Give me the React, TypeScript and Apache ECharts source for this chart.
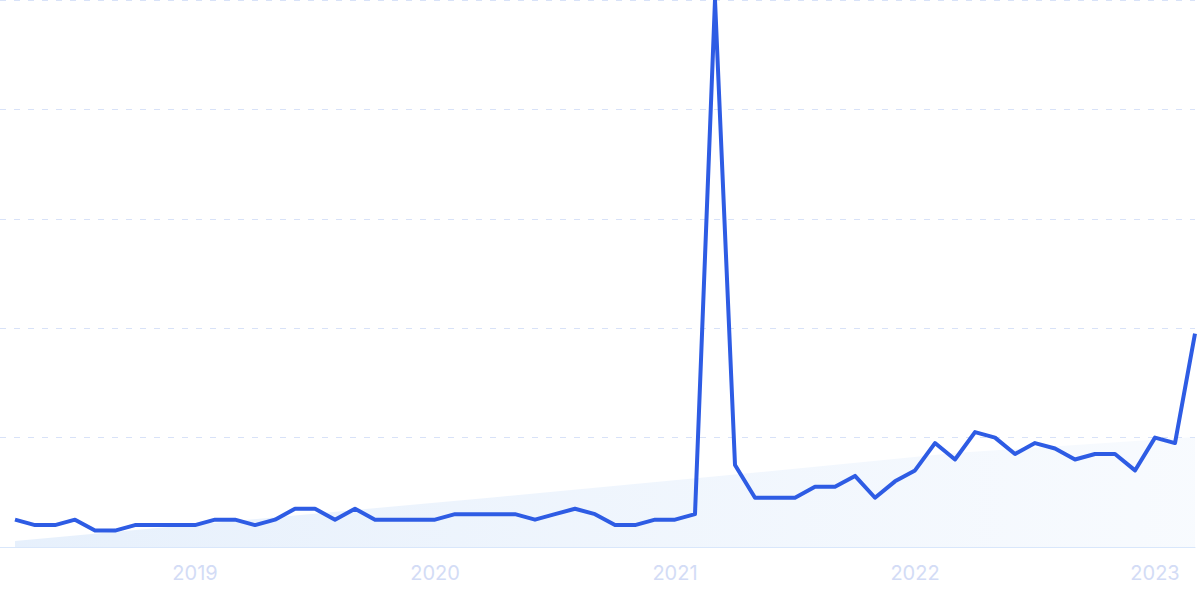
import React, { useEffect, useRef } from "react";
import * as echarts from "echarts";

// Monthly points, Apr 2018 .. Mar 2023 (index 0 = Apr 2018)
const months: string[] = [
  "2018-04","2018-05","2018-06","2018-07","2018-08","2018-09","2018-10","2018-11","2018-12",
  "2019-01","2019-02","2019-03","2019-04","2019-05","2019-06","2019-07","2019-08","2019-09","2019-10","2019-11","2019-12",
  "2020-01","2020-02","2020-03","2020-04","2020-05","2020-06","2020-07","2020-08","2020-09","2020-10","2020-11","2020-12",
  "2021-01","2021-02","2021-03","2021-04","2021-05","2021-06","2021-07","2021-08","2021-09","2021-10","2021-11","2021-12",
  "2022-01","2022-02","2022-03","2022-04","2022-05","2022-06","2022-07","2022-08","2022-09","2022-10","2022-11","2022-12",
  "2023-01","2023-02","2023-03",
];

const interest: number[] = [
  5, 4, 4, 5, 3, 3, 4, 4, 4,
  4, 5, 5, 4, 5, 7, 7, 5, 7, 5, 5, 5,
  5, 6, 6, 6, 6, 5, 6, 7, 6, 4, 4, 5,
  5, 6, 100, 15, 9, 9, 9, 11, 11, 13, 9, 12,
  14, 19, 16, 21, 20, 17, 19, 18, 16, 17, 17, 14,
  20, 19, 39,
];

// Trend band read at a few month positions
const trendPoints: [number, number][] = [
  [0, 1.1],
  [24, 9.1],
  [39, 14.3],
  [47, 17.2],
  [59, 20.1],
];

const yearTicks: string[] = ["2019", "2020", "2021", "2022", "2023"];

export default function App() {
  const ref = useRef<HTMLDivElement>(null);

  useEffect(() => {
    if (!ref.current) return;
    const chart = echarts.init(ref.current, null, { renderer: "svg" });
    const janIdx = yearTicks.map((y) => months.indexOf(y + "-01"));

    chart.setOption({
      animation: false,
      grid: { left: 0, right: 5, top: 0, bottom: 52, containLabel: false },
      xAxis: {
        type: "value",
        min: -0.75,
        max: months.length - 1,
        axisLine: { show: true, lineStyle: { color: "#d9e7fb", width: 1 } },
        axisTick: { show: false },
        splitLine: { show: false },
        axisLabel: {
          customValues: janIdx,
          formatter: (v: number) => {
            const m = months[Math.round(v)];
            return m ? m.slice(0, 4) : "";
          },
          color: "#d3dcf6",
          fontSize: 20,
          fontFamily: "Inter",
          margin: 16,
        },
      },
      yAxis: {
        type: "value",
        min: 0,
        max: 100,
        interval: 20,
        axisLine: { show: false },
        axisTick: { show: false },
        axisLabel: { show: false },
        splitLine: {
          show: true,
          lineStyle: { color: "#d8e2f8", type: [6, 8], width: 1 },
        },
      },
      series: [
        {
          name: "trend",
          type: "line",
          data: trendPoints,
          symbol: "none",
          lineStyle: { width: 0, opacity: 0 },
          areaStyle: {
            color: new echarts.graphic.LinearGradient(0, 0, 1, 0, [
              { offset: 0, color: "rgba(214,230,250,0.85)" },
              { offset: 1, color: "rgba(214,230,250,0.25)" },
            ]),
          },
          silent: true,
          z: 1,
        },
        {
          name: "interest",
          type: "line",
          data: interest.map((v, i) => [i, v]),
          symbol: "none",
          lineStyle: { color: "#2e5ce4", width: 4, join: "round" },
          z: 2,
        },
      ],
    });
    return () => chart.dispose();
  }, []);

  return (
    <div
      ref={ref}
      style={{ position: "absolute", left: 0, top: 0, width: 1200, height: 599, background: "#fff" }}
    />
  );
}
